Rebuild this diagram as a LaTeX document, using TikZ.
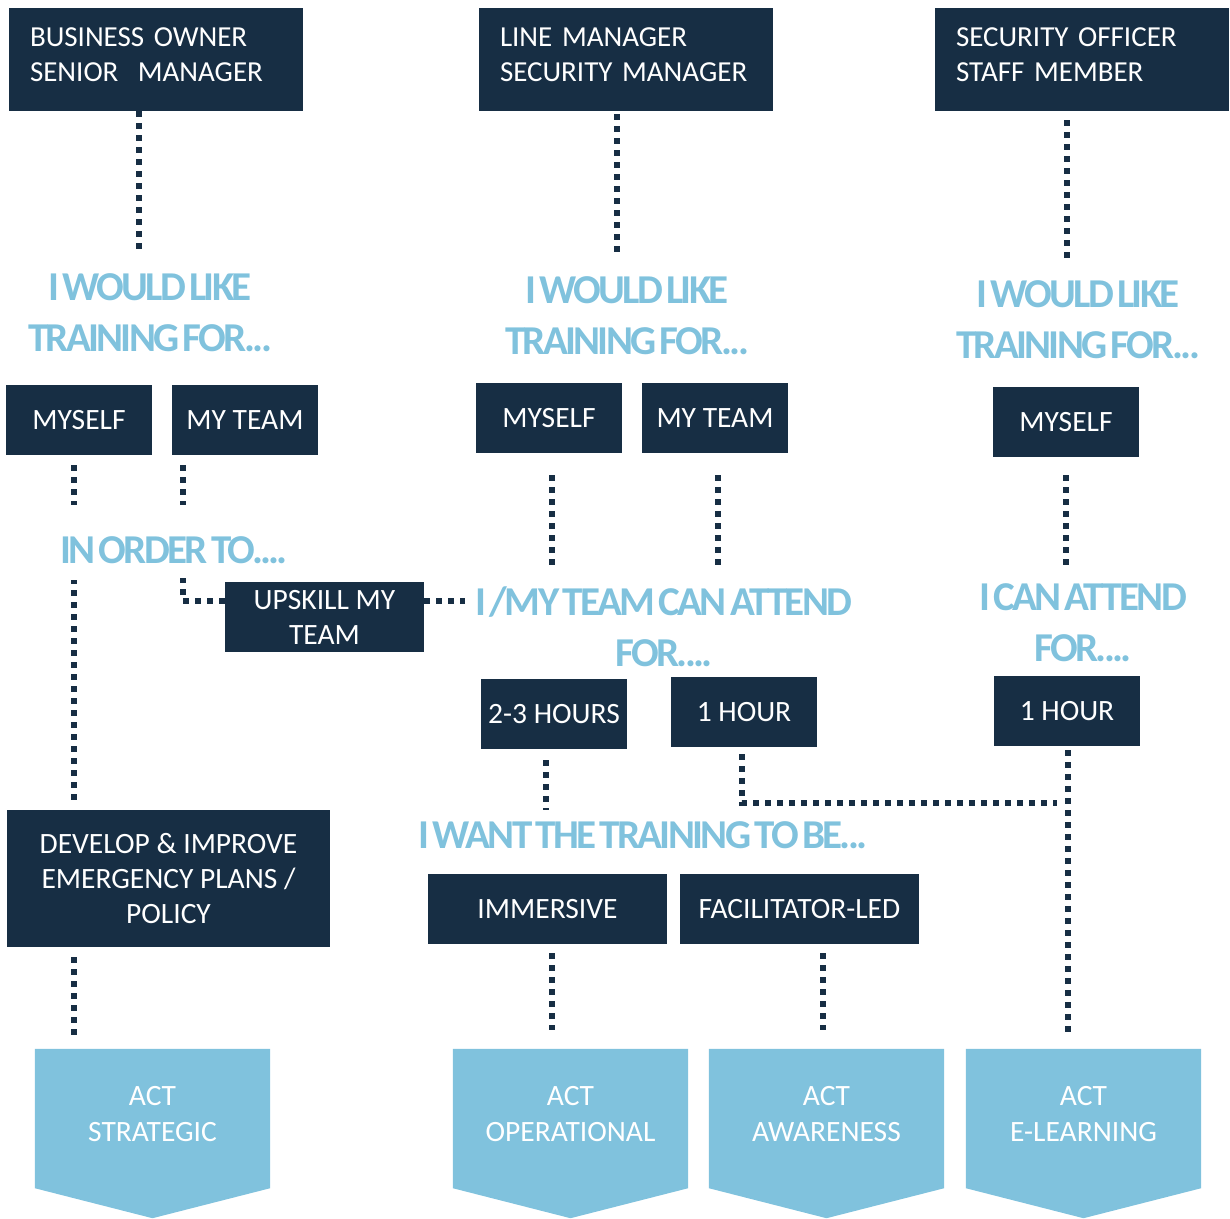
\documentclass[tikz,border=0pt]{standalone}
\usepackage{fontspec}
\setmainfont{Carlito}
\newfontfamily\headfont[LetterSpace=-6.5,WordSpace=0.5]{Carlito}
\definecolor{navy}{HTML}{172E44}
\definecolor{actblue}{HTML}{80C2DD}

\begin{document}
\begin{tikzpicture}[x=1pt,y=-1pt,
    navybox/.style={fill=navy,text=white,inner sep=0,minimum width=146,minimum height=70,
      font=\fontsize{29.5}{35}\selectfont,align=center},
    rolebox/.style={navybox,minimum width=294,minimum height=103,text width=252,align=left,
      font=\fontsize{29}{35}\selectfont},
    heading/.style={text=actblue,inner sep=0,align=center,
      font=\headfont\bfseries\fontsize{41}{51}\selectfont},
    chevron/.style={inner sep=0,minimum width=235,minimum height=169},
    acttext/.style={text=white,inner sep=0,align=center,font=\fontsize{29.5}{36}\selectfont},
    dotline/.style={draw=navy,line width=6,dash pattern=on 6 off 6}]
    \useasboundingbox (0,0) rectangle (1230,1218);

    % Roles
    \node[rolebox] (bo) at (156,59.5) {BUSINESS OWNER\\SENIOR\ \ MANAGER\par\vspace{9pt}};
    \node[rolebox] (lm) at (626,59.5) {LINE MANAGER\\SECURITY MANAGER\par\vspace{9pt}};
    \node[rolebox] (so) at (1082,59.5) {SECURITY OFFICER\\STAFF MEMBER\par\vspace{9pt}};

    % Headings
    \node[heading] (wl1) at (150,312.5) {I WOULD LIKE\\TRAINING FOR...};
    \node[heading] (wl2) at (627,316) {I WOULD LIKE\\TRAINING FOR...};
    \node[heading] (wl3) at (1078,320) {I WOULD LIKE\\TRAINING FOR...};
    \node[heading] (order) at (174,550) {IN ORDER TO....};
    \node[heading] (attend2) at (664,627) {I /MY TEAM CAN ATTEND\\FOR....};
    \node[heading] (attend3) at (1083,623) {I CAN ATTEND\\FOR....};
    \node[heading] (want) at (643,835) {I WANT THE TRAINING TO BE...};

    % Choices
    \node[navybox] (myself1) at (79,420) {MYSELF};
    \node[navybox] (team1) at (245,420) {MY TEAM};
    \node[navybox] (myself2) at (549,418) {MYSELF};
    \node[navybox] (team2) at (715,418) {MY TEAM};
    \node[navybox] (myself3) at (1066,422) {MYSELF};
    \node[navybox,minimum width=199] (upskill) at (324.5,617) {UPSKILL MY\\TEAM};
    \node[navybox] (hrs23) at (554,714) {2-3 HOURS};
    \node[navybox] (hr1) at (744,712) {1 HOUR};
    \node[navybox] (hr1b) at (1067,711) {1 HOUR};
    \node[navybox,minimum width=323,minimum height=137] (develop) at (168.5,878.5)
        {DEVELOP \& IMPROVE\\EMERGENCY PLANS /\\POLICY};
    \node[navybox,minimum width=239] (immersive) at (547.5,909) {IMMERSIVE};
    \node[navybox,minimum width=239] (facil) at (799.5,909) {FACILITATOR-LED};

    % ACT products
    \node[chevron] (strat) at (152.5,1133.5) {};
    \node[chevron] (oper) at (570.5,1133.5) {};
    \node[chevron] (aware) at (826.5,1133.5) {};
    \node[chevron] (elearn) at (1083.5,1133.5) {};
    \foreach \c in {strat,oper,aware,elearn}
        \fill[actblue] (\c.north west) -- (\c.north east) -- ([yshift=30]\c.south east)
            -- (\c.south) -- ([yshift=30]\c.south west) -- cycle;
    \node[acttext] (stratlbl) at ([yshift=19.5]strat.center) {ACT\\STRATEGIC};
    \node[acttext] (operlbl) at ([yshift=19.5]oper.center) {ACT\\OPERATIONAL};
    \node[acttext] (awarelbl) at ([yshift=19.5]aware.center) {ACT\\AWARENESS};
    \node[acttext] (elearnlbl) at ([yshift=19.5]elearn.center) {ACT\\E-LEARNING};

    % Dotted links
    \draw[dotline] ([xshift=-17]bo.south) -- ++(0,139);
    \draw[dotline] ([xshift=-9,yshift=-3]lm.south) -- ++(0,138);
    \draw[dotline] ([xshift=-15,yshift=-9]so.south) -- ++(0,138);
    \draw[dotline] ([xshift=-5,yshift=-10]myself1.south) -- ++(0,40);
    \draw[dotline] ([xshift=-62,yshift=-10]team1.south) -- ++(0,40);
    \draw[dotline] ([xshift=-94.5,yshift=10]develop.north) -- ++(0,-220);
    \draw[dotline] ([yshift=16]upskill.west) -| ++(-42,-23);
    \draw[dotline] ([yshift=16]upskill.east) -- ++(41,0);
    \draw[dotline] ([xshift=3,yshift=-22]myself2.south) -- ++(0,90);
    \draw[dotline] ([xshift=3,yshift=-22]team2.south) -- ++(0,90);
    \draw[dotline] ([yshift=-18]myself3.south) -- ++(0,90);
    \draw[dotline] ([xshift=-8,yshift=-11]hrs23.south) -- ++(0,50);
    \draw[dotline] ([xshift=-2,yshift=-7]hr1.south) |- ++(315,49);
    \draw[dotline] ([xshift=1,yshift=-4]hr1b.south) -- ++(0,285);
    \draw[dotline] ([xshift=-94.5,yshift=-10]develop.south) -- ++(0,78);
    \draw[dotline] ([xshift=4.5,yshift=-9]immersive.south) -- ++(0,77);
    \draw[dotline] ([xshift=23.5,yshift=-9]facil.south) -- ++(0,77);
\end{tikzpicture}
\end{document}
